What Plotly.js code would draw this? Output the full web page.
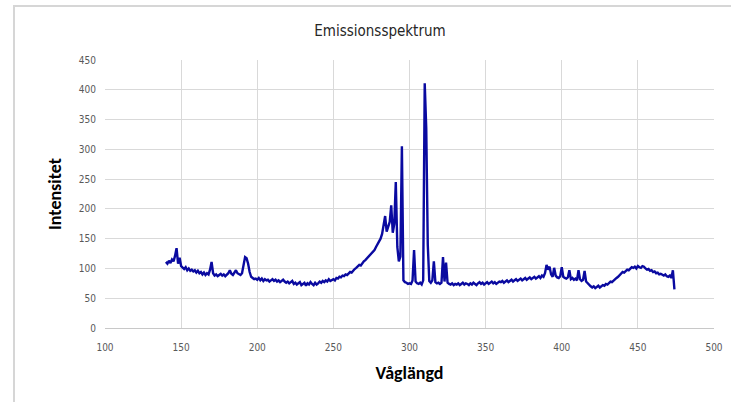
<!DOCTYPE html>
<html>
<head>
<meta charset="utf-8">
<script src="https://cdn.plot.ly/plotly-3.0.1.min.js"></script>
<style>
  html, body { margin: 0; padding: 0; background: #ffffff; }
  #frame { position: absolute; left: 13px; top: 5px; width: 740px; height: 420px;
           border-left: 2px solid #d6d6d6; border-top: 2px solid #d6d6d6; }
  #chart { position: absolute; left: 0; top: 0; width: 731px; height: 402px; }
</style>
</head>
<body>
<div id="frame"></div>
<div id="chart"></div>
<script>
// Wavelength sampling: 1 nm steps starting at 140 nm
const wavelengthStart = 140;
const wavelengthStep = 1;

// Intensity, one value per nm (140 ... 474)
const intensity = [
  111, 108, 113, 109, 115, 112, 121, 134, 108, 118,   // 140-149
  104, 101,  99, 102,  97, 100,  96,  98,  95,  97,   // 150-159
   93,  96,  92,  94,  90,  93,  89,  92,  90,  98,   // 160-169
  111,  92,  88,  90,  87,  89,  91,  88,  90,  87,   // 170-179
   89,  92,  97,  91,  89,  93,  97,  92,  90,  89,   // 180-189
   92, 103, 119, 117, 108,  94,  86,  84,  82,  83,   // 190-199
   81,  84,  80,  83,  79,  82,  80,  81,  78,  80,   // 200-209
   82,  79,  81,  78,  80,  77,  79,  81,  78,  76,   // 210-219
   78,  75,  77,  79,  74,  76,  73,  75,  77,  72,   // 220-229
   74,  76,  71,  75,  73,  77,  74,  72,  76,  73,   // 230-239
   75,  78,  76,  79,  77,  80,  78,  82,  79,  81,   // 240-249
   82,  80,  84,  83,  86,  85,  88,  87,  90,  89,   // 250-259
   92,  94,  93,  97,  99, 101, 104, 106, 105, 109,   // 260-269
  112, 114, 117, 119, 122, 126, 128, 131, 136, 140,   // 270-279
  145, 150, 158, 172, 188, 162, 170, 178, 206, 160,   // 280-289
  175, 245, 136, 112, 120, 305,  80,  77,  76,  74,   // 290-299
   75,  74,  80, 131,  78,  75,  74,  76,  73,  80,   // 300-309
  411, 335, 140,  79,  76,  80, 112,  77,  75,  76,   // 310-319
   74,  76, 119,  78, 110,  76,  74,  73,  75,  72,   // 320-329
   74,  73,  75,  72,  74,  76,  73,  75,  74,  72,   // 330-339
   75,  73,  76,  74,  72,  75,  77,  74,  76,  73,   // 340-349
   75,  77,  74,  76,  78,  75,  77,  74,  76,  78,   // 350-359
   77,  79,  76,  78,  80,  77,  79,  81,  78,  80,   // 360-369
   82,  79,  81,  83,  80,  82,  84,  81,  83,  85,   // 370-379
   82,  84,  86,  83,  85,  87,  84,  88,  86,  92,   // 380-389
  106,  98, 103,  90,  86, 101,  88,  85,  84,  87,   // 390-399
  102,  86,  84,  83,  85,  97,  82,  84,  81,  83,   // 400-409
   80,  97,  82,  79,  81,  96,  78,  75,  72,  70,   // 410-419
   68,  70,  67,  69,  71,  68,  70,  72,  71,  74,   // 420-429
   73,  76,  78,  77,  80,  82,  84,  86,  89,  91,   // 430-439
   94,  93,  96,  98,  97, 100, 102, 101, 103, 100,   // 440-449
  104, 102, 101, 104, 103, 100,  98,  99,  96,  97,   // 450-459
   94,  95,  92,  93,  90,  91,  89,  88,  90,  87,   // 460-469
   86,  88,  84,  97,  65                              // 470-474
];

const wavelength = intensity.map((_, i) => wavelengthStart + i * wavelengthStep);

const xTicks = [100, 150, 200, 250, 300, 350, 400, 450, 500];
const yTicks = [0, 50, 100, 150, 200, 250, 300, 350, 400, 450];

const chartTitle = 'Emissionsspektrum';
const xTitle = 'Våglängd';
const yTitle = 'Intensitet';

const tickFont = { family: '"Liberation Sans Narrow", "DejaVu Sans Condensed", Arial, sans-serif', size: 10, color: '#595959' };
const boldFont = { family: 'Carlito, "Open Sans", "Liberation Sans", Arial, sans-serif', size: 18, color: '#000000', weight: 700 };

const trace = {
  x: wavelength,
  y: intensity,
  type: 'scatter',
  mode: 'lines',
  line: { color: '#0a0aa0', width: 2.4 },
  hoverinfo: 'x+y'
};

const layout = {
  width: 731,
  height: 402,
  margin: { l: 105, r: 17, t: 60, b: 74 },
  paper_bgcolor: 'rgba(0,0,0,0)',
  plot_bgcolor: '#ffffff',
  showlegend: false,
  title: {
    text: chartTitle,
    font: { family: '"Liberation Sans Narrow", "DejaVu Sans Condensed", Arial, sans-serif', size: 15, color: '#262626' },
    xref: 'container', x: 380 / 731, xanchor: 'center',
    yref: 'container', y: 1 - 31 / 402, yanchor: 'middle'
  },
  xaxis: {
    range: [100, 500],
    tickvals: xTicks,
    ticktext: xTicks.map(String),
    tickfont: tickFont,
    ticklabelstandoff: 12,
    showgrid: true,
    gridcolor: '#d9d9d9',
    gridwidth: 1,
    zeroline: false,
    showline: false,
    ticks: '',
    ticklen: 0,
    title: { text: xTitle, font: boldFont, standoff: 14 }
  },
  yaxis: {
    range: [0, 450],
    tickvals: yTicks,
    ticktext: yTicks.map(String),
    tickfont: tickFont,
    ticklabelstandoff: 8,
    showgrid: true,
    gridcolor: '#d9d9d9',
    gridwidth: 1,
    zeroline: true,
    zerolinecolor: '#c8c8c8',
    zerolinewidth: 1,
    showline: false,
    ticks: '',
    title: { text: yTitle, font: boldFont, standoff: 12 }
  }
};

Plotly.newPlot('chart', [trace], layout, { displayModeBar: false, staticPlot: true });
</script>
</body>
</html>
